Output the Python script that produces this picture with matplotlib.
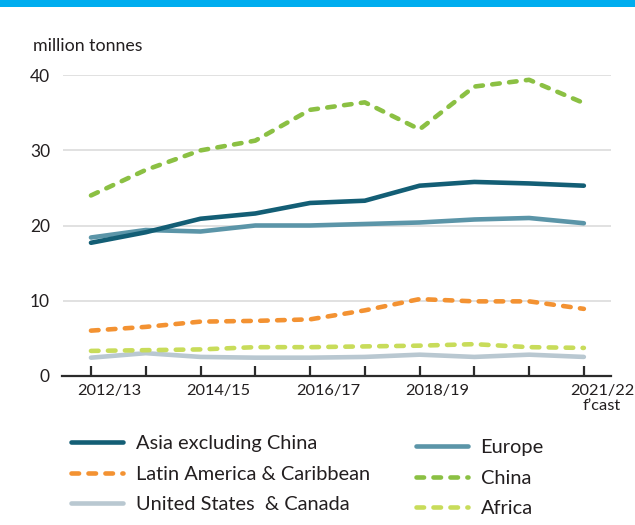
import matplotlib
matplotlib.use("Agg")
import matplotlib.pyplot as plt
from matplotlib.transforms import ScaledTranslation
import numpy as np

plt.rcParams['font.family'] = ['Lato', 'DejaVu Sans']

years = ["2012/13", "2013/14", "2014/15", "2015/16", "2016/17", "2017/18",
         "2018/19", "2019/20", "2020/21", "2021/22\nf\u2019cast"]
tick_labels_shown = ["2012/13", "", "2014/15", "", "2016/17", "", "2018/19", "", "", "2021/22\nf\u2019cast"]

asia_ex_china = [17.7, 19.1, 20.9, 21.6, 23.0, 23.3, 25.3, 25.8, 25.6, 25.3]
europe = [18.4, 19.4, 19.2, 20.0, 20.0, 20.2, 20.4, 20.8, 21.0, 20.3]
china = [24.0, 27.4, 30.0, 31.3, 35.4, 36.4, 32.8, 38.5, 39.4, 36.3]
latin_america = [6.0, 6.5, 7.2, 7.3, 7.5, 8.7, 10.2, 9.9, 9.9, 8.9]
africa = [3.3, 3.4, 3.5, 3.8, 3.8, 3.9, 4.0, 4.2, 3.8, 3.7]
us_canada = [2.4, 3.0, 2.5, 2.4, 2.4, 2.5, 2.8, 2.5, 2.8, 2.5]

yticks = [0, 10, 20, 30, 40]

W, H = 635, 525
fig = plt.figure(figsize=(W / 100, H / 100), dpi=100)
fig.patch.set_facecolor('white')

# top blue band
fig.add_artist(plt.Rectangle((0, 1 - 7 / H), 1, 7 / H, transform=fig.transFigure,
                             color='#00adef', lw=0))

left, right, top, bottom = 62.5, 610.7, 75.3, 375.7
ax = fig.add_axes([left / W, 1 - bottom / H, (right - left) / W, (bottom - top) / H])

x = np.arange(len(years))
ax.set_xlim(-0.52, 9.49)
ax.set_ylim(0, 40)

for s in ['top', 'right', 'left']:
    ax.spines[s].set_visible(False)
ax.spines['bottom'].set_color('#2b2b2b')
ax.spines['bottom'].set_linewidth(1.6)

ax.set_yticks(yticks)
ax.set_yticklabels([str(v) for v in yticks])
ax.tick_params(axis='y', length=0, pad=9, labelsize=12.5, labelcolor='#231f20')
for v in yticks[1:]:
    ax.axhline(v, color='#e1e1e1', lw=1.4, zorder=0)

ax.set_xticks(x)
ax.set_xticklabels(tick_labels_shown, linespacing=1.05)
ax.tick_params(axis='x', direction='in', length=7, width=1.6, color='#2b2b2b',
               pad=6, labelsize=11.8, labelcolor='#231f20')
off = ScaledTranslation(18 / 100, 0, fig.dpi_scale_trans)
for lab in ax.get_xticklabels():
    lab.set_transform(lab.get_transform() + off)

dash = (1.65, 2.05)
lw = 3.3
kw = dict(lw=lw, solid_capstyle='round', dash_capstyle='round', clip_on=False)

l_us, = ax.plot(x, us_canada, color='#b9c8d1', zorder=3, **kw)
l_af, = ax.plot(x, africa, color='#c8dc5a', ls=(0, dash), zorder=3, **kw)
l_la, = ax.plot(x, latin_america, color='#f39232', ls=(0, dash), zorder=3, **kw)
l_eu, = ax.plot(x, europe, color='#5b95a8', zorder=3, **kw)
l_as, = ax.plot(x, asia_ex_china, color='#135e75', zorder=4, **kw)
l_cn, = ax.plot(x, china, color='#8bc043', ls=(0, dash), zorder=3, **kw)

fig.text(33 / W, 1 - 46 / H, 'million tonnes', fontsize=12.8, color='#231f20',
         ha='left', va='center')

leg_kw = dict(frameon=False, fontsize=14.4, handlelength=2.6, handletextpad=0.63,
              labelspacing=0.66, borderpad=0, borderaxespad=0, loc='center left')
leg1 = fig.legend([l_as, l_la, l_us],
                  ['Asia excluding China', 'Latin America & Caribbean', 'United States  & Canada'],
                  bbox_to_anchor=(71 / W, 1 - 474 / H), **leg_kw)
for t in leg1.get_texts():
    t.set_color('#231f20')
leg2 = fig.legend([l_eu, l_cn, l_af], ['Europe', 'China', 'Africa'],
                  bbox_to_anchor=(416 / W, 1 - 478 / H), **leg_kw)
for t in leg2.get_texts():
    t.set_color('#231f20')

fig.savefig('out.png', dpi=100, facecolor='white')
